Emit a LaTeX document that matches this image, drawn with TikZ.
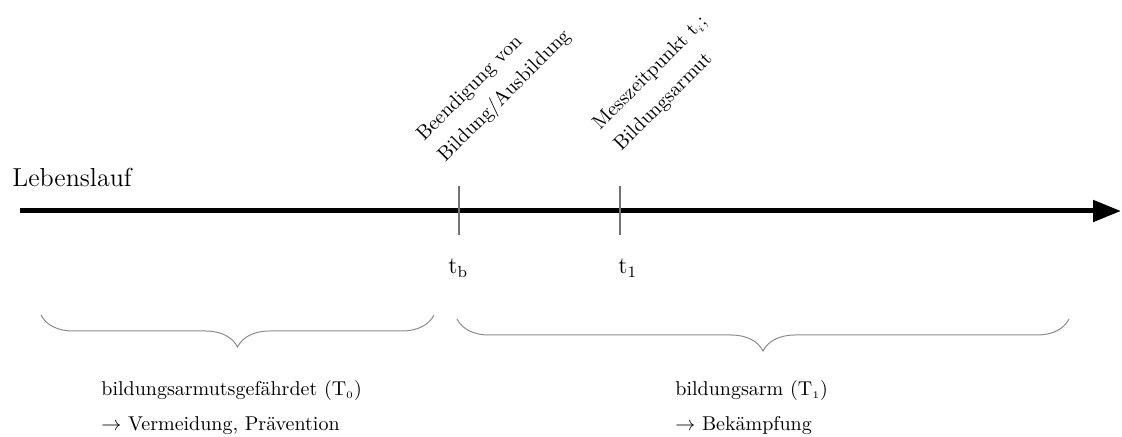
\documentclass[tikz,border=0pt]{standalone}
\usetikzlibrary{arrows.meta,decorations.pathreplacing}
\begin{document}
\begin{tikzpicture}[x=0.5pt,y=-0.5pt,
  tickline/.style={draw=black!55, line width=0.6pt},
  brc/.style={draw=black!45, line width=0.5pt, decorate, decoration={brace, amplitude=16pt}},
  lbl/.style={font=\fontsize{10}{15}\selectfont, inner sep=0pt, align=left, rotate=45, anchor=base west},
  txt/.style={font=\fontsize{10}{17.5}\selectfont, inner sep=0pt, align=left, anchor=base west},
  tlab/.style={font=\fontsize{12}{14}\selectfont, inner sep=0pt, anchor=base west}]
\useasboundingbox (0,0) rectangle (1122,437);
% axis
\coordinate (start) at (20,211);
\coordinate (end) at (1121,211);
\draw[line width=2.5pt, -{Triangle[length=14pt,width=10.5pt]}] (start) -- (end);
\node[font=\fontsize{13}{15}\selectfont, inner sep=0pt, anchor=base west] (leb) at (12,187) {Lebenslauf};
% ticks
\coordinate (tbtop) at (459,186);
\coordinate (tbbot) at (459,235);
\coordinate (t1top) at (620,186);
\coordinate (t1bot) at (620,235);
\draw[tickline] (tbtop) -- (tbbot);
\draw[tickline] (t1top) -- (t1bot);
\node[tlab] (tb) at (448,274) {t$_{\mathrm{b}}$};
\node[tlab] (t1) at (618,274) {t$_{1}$};
% rotated labels (anchored at the start of their last line)
\node[lbl] (lb) at (445,163) {Beendigung von\\Bildung/Ausbildung};
\node[lbl] (lm) at (621,152) {Messzeitpunkt t$_{\scriptscriptstyle i}$;\\Bildungsarmut};
% braces
\coordinate (bl1) at (41,315);
\coordinate (bl2) at (434,315);
\coordinate (br1) at (457,319);
\coordinate (br2) at (1069,319);
\draw[brc] (bl2) -- (bl1);
\draw[brc] (br2) -- (br1);
% bottom texts (anchored at the baseline of their last line)
\node[txt] (t0) at (101,430) {bildungsarmutsgefährdet (T$_{\scriptscriptstyle 0}$)\\$\rightarrow$ Vermeidung, Prävention};
\node[txt] (t1t) at (675,430) {bildungsarm (T$_{\scriptscriptstyle 1}$)\\$\rightarrow$ Bekämpfung};
\end{tikzpicture}
\end{document}
